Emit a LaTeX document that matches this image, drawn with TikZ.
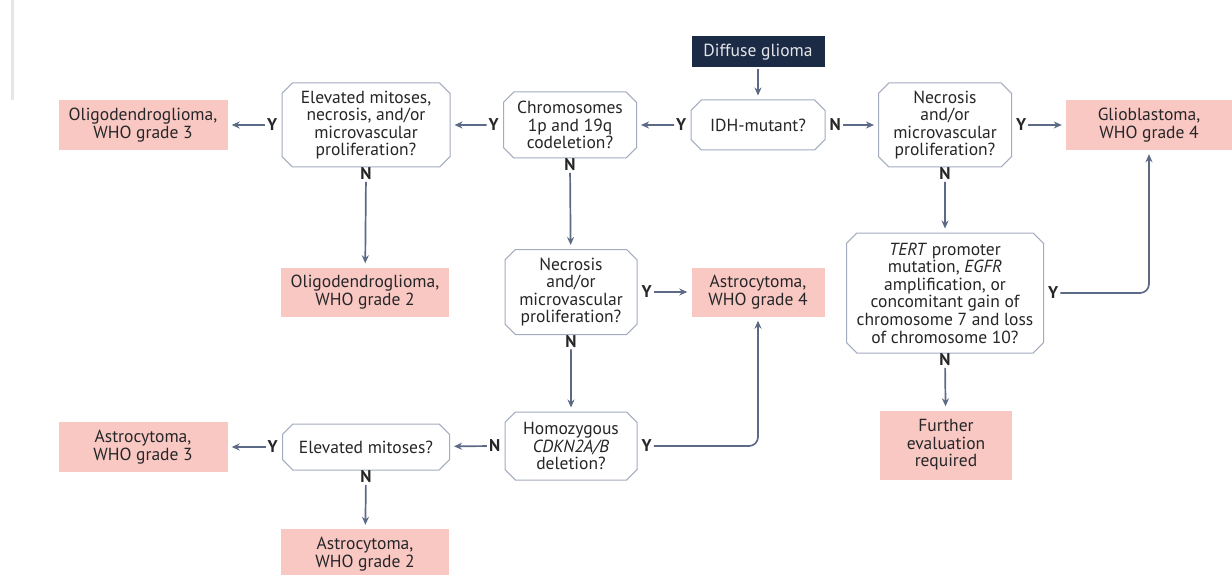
\documentclass[tikz,border=0pt]{standalone}
\usepackage{fontspec}
\setmainfont{PT Sans}
\usepackage{tikz}
\usetikzlibrary{shapes.misc}
\usetikzlibrary{arrows.meta}
\usepackage{color}
\definecolor{navy}{RGB}{28, 43, 69}
\definecolor{blush}{RGB}{249, 200, 195}
\definecolor{slate}{RGB}{92, 106, 134}
\definecolor{frame}{RGB}{163, 172, 190}
\definecolor{ink}{RGB}{38, 38, 40}
\definecolor{edge}{RGB}{232, 230, 224}

\tikzset{
    base/.style={align=center, inner sep=2pt, text=ink, font=\fontsize{17.5}{17.6}\selectfont},
    start/.style={base, fill=navy, text=white!88!navy},
    question/.style={base, chamfered rectangle, chamfered rectangle xsep=7pt, chamfered rectangle angle=45,
                     draw=frame, line width=1pt},
    outcome/.style={base, fill=blush},
    yn/.style={font=\fontsize{17}{17}\selectfont\bfseries, text=ink, inner sep=1pt},
    flow/.style={draw=slate, line width=1.7pt, -{Stealth[length=8pt, width=7pt]}, shorten >=4pt, shorten <=1pt}
}

\begin{document}
\begin{tikzpicture}[x=1pt, y=-1pt]
    \useasboundingbox (0,0) rectangle (1232,575);
    \fill[white] (0,0) rectangle (1232,575);
    \draw[color=edge, line width=3pt] (12,0) -- (12,100);

    % Top row
    \node[start, minimum width=133pt, minimum height=31pt] (glioma) at (758,52) {Diffuse glioma};
    \node[question, minimum width=134pt, minimum height=50pt] (idh) at (758,125) {IDH-mutant?};
    \node[question, minimum width=133pt, minimum height=66pt] (codel) at (570,125) {Chromosomes\\1p and 19q\\codeletion?};
    \node[question, minimum width=168pt, minimum height=84pt] (mitnec) at (366,125) {Elevated mitoses,\\necrosis, and/or\\microvascular\\proliferation?};
    \node[outcome, minimum width=169pt, minimum height=50pt] (oligoIII) at (143,125) {Oligodendroglioma,\\WHO grade 3};
    \node[question, minimum width=133pt, minimum height=84pt] (necrA) at (945,125) {Necrosis\\and/or\\microvascular\\proliferation?};
    \node[outcome, minimum width=166pt, minimum height=50pt] (gbm) at (1149,125) {Glioblastoma,\\WHO grade 4};

    % Middle row
    \node[outcome, minimum width=168pt, minimum height=49pt] (oligoII) at (365,292) {Oligodendroglioma,\\WHO grade 2};
    \node[question, minimum width=132pt, minimum height=85pt] (necrB) at (571,292) {Necrosis\\and/or\\microvascular\\proliferation?};
    \node[outcome, minimum width=133pt, minimum height=49pt] (astroIV) at (758,292) {Astrocytoma,\\WHO grade 4};
    \node[question, minimum width=197pt, minimum height=120pt] (tert) at (945,293) {\textit{TERT} promoter\\mutation, \textit{EGFR}\\amplification, or\\concomitant gain of\\chromosome 7 and loss\\of chromosome 10?};

    % Bottom rows
    \node[outcome, minimum width=132pt, minimum height=69pt] (further) at (946,445) {Further\\evaluation\\required};
    \node[question, minimum width=132pt, minimum height=68pt] (cdkn) at (571,446) {Homozygous\\\textit{CDKN2A/B}\\deletion?};
    \node[question, minimum width=167pt, minimum height=46pt] (mitos) at (366,447) {Elevated mitoses?};
    \node[outcome, minimum width=169pt, minimum height=50pt] (astroIII) at (143,447) {Astrocytoma,\\WHO grade 3};
    \node[outcome, minimum width=168pt, minimum height=50pt] (astroII) at (365,554) {Astrocytoma,\\WHO grade 2};

    % Y / N labels
    \node[yn, anchor=east]  (idhY)    at ([xshift=-3pt]idh.west)    {Y};
    \node[yn, anchor=west]  (idhN)    at ([xshift=3pt]idh.east)     {N};
    \node[yn, anchor=east]  (codelY)  at ([xshift=-3pt]codel.west)  {Y};
    \node[yn, anchor=north] (codelN)  at ([yshift=1pt]codel.south)  {N};
    \node[yn, anchor=east]  (mitnecY) at ([xshift=-3pt]mitnec.west) {Y};
    \node[yn, anchor=north] (mitnecN) at ([yshift=1pt]mitnec.south) {N};
    \node[yn, anchor=west]  (necrAY)  at ([xshift=3pt]necrA.east)   {Y};
    \node[yn, anchor=north] (necrAN)  at ([yshift=1pt]necrA.south)  {N};
    \node[yn, anchor=west]  (necrBY)  at ([xshift=3pt]necrB.east)   {Y};
    \node[yn, anchor=north] (necrBN)  at ([yshift=1pt]necrB.south)  {N};
    \node[yn, anchor=west]  (tertY)   at ([xshift=3pt]tert.east)    {Y};
    \node[yn, anchor=north] (tertN)   at ([yshift=1pt]tert.south)   {N};
    \node[yn, anchor=west]  (cdknY)   at ([xshift=3pt]cdkn.east)    {Y};
    \node[yn, anchor=east]  (cdknN)   at ([xshift=-3pt]cdkn.west)   {N};
    \node[yn, anchor=east]  (mitosY)  at ([xshift=-3pt]mitos.west)  {Y};
    \node[yn, anchor=north] (mitosN)  at ([yshift=1pt]mitos.south)  {N};

    % Connectors
    \draw[flow] (glioma) -- (idh);
    \draw[flow] (idhY) -- (codel);
    \draw[flow] (idhN) -- (necrA);
    \draw[flow] (codelY) -- (mitnec);
    \draw[flow] (codelN) -- (necrB);
    \draw[flow] (mitnecY) -- (oligoIII);
    \draw[flow] (mitnecN) -- (oligoII);
    \draw[flow] (necrAY) -- (gbm);
    \draw[flow] (necrAN) -- (tert);
    \draw[flow] (necrBY) -- (astroIV);
    \draw[flow] (necrBN) -- (cdkn);
    \draw[flow] (tertN) -- (further);
    \draw[flow] (cdknN) -- (mitos);
    \draw[flow] (mitosY) -- (astroIII);
    \draw[flow] (mitosN) -- (astroII);
    \draw[flow, rounded corners=9pt] (cdknY.east) -- (cdknY.east -| astroIV) -- (astroIV.south);
    \draw[flow, rounded corners=9pt] (tertY.east) -- (tertY.east -| gbm) -- (gbm.south);
\end{tikzpicture}
\end{document}
